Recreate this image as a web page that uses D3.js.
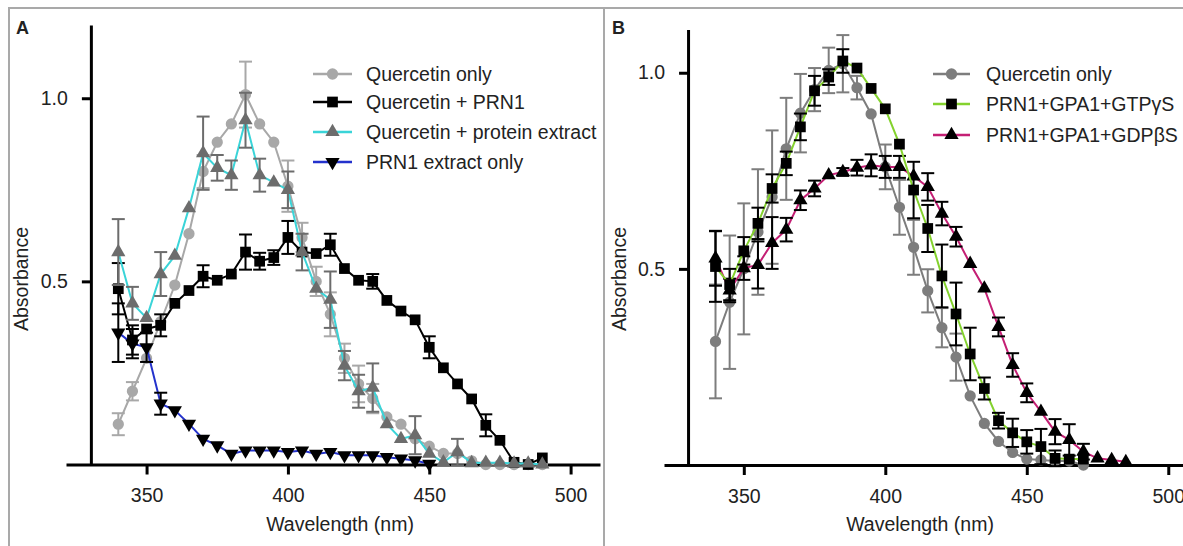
<!DOCTYPE html>
<html><head><meta charset="utf-8">
<script src="https://cdn.jsdelivr.net/npm/d3@7"></script>
<style>
body{margin:0;background:#fff}
svg{display:block}
text{font-family:"Liberation Sans",Arial,Helvetica,sans-serif;fill:#222}
</style>
</head><body>
<svg id="chart" width="1183" height="546"></svg>
<script>
// ---------------- DATA ----------------
// Panel A
const wlA = [340,345,350,355,360,365,370,375,380,385,390,395,400,405,410,415,420,425,430,435,440,445,450,455,460,465,470,475,480,485,490];
const wlA_extract = [340,345,350,355,360,365,370,375,380,385,390,395,400,405,410,415,420,425,430,435,440,445,450];
const aQuercetin    = [0.11,0.20,0.29,0.39,0.49,0.63,0.80,0.88,0.93,1.01,0.93,0.88,0.76,0.62,0.50,0.41,0.29,0.22,0.18,0.13,0.11,0.07,0.05,0.03,0.03,0.01,0.00,0.00,0.00,0.00,0.00];
const aQuercetinErr = [0.03,0.025,0,0,0,0,0.045,0,0,0.09,0,0,0.07,0.04,0.04,0.06,0.04,0.05,0.04,0,0,0,0,0,0,0,0,0,0,0,0];
const aPRN1         = [0.48,0.34,0.37,0.38,0.44,0.475,0.514,0.503,0.52,0.58,0.555,0.565,0.62,0.58,0.576,0.60,0.535,0.503,0.50,0.448,0.419,0.395,0.32,0.264,0.22,0.179,0.107,0.066,0.006,0.0,0.018];
const aPRN1Err      = [0.07,0.04,0,0.03,0,0,0.03,0,0,0.048,0.023,0.02,0.045,0,0,0.03,0,0,0.02,0,0,0,0.03,0,0,0,0.03,0,0,0,0];
const aProtein      = [0.58,0.44,0.40,0.52,0.57,0.70,0.85,0.81,0.79,0.94,0.79,0.77,0.75,0.58,0.48,0.45,0.27,0.20,0.21,0.11,0.07,0.08,0.03,0.006,0.034,0.004,0.005,0.005,0.003,0.003,0.0];
const aProteinErr   = [0.09,0.045,0,0.06,0,0,0.10,0.035,0.04,0.075,0.045,0,0.05,0.05,0,0.077,0.04,0.045,0.066,0,0,0.052,0,0,0.036,0,0,0,0,0,0];
const aExtract      = [0.36,0.33,0.32,0.166,0.148,0.111,0.07,0.052,0.029,0.038,0.038,0.038,0.034,0.038,0.029,0.034,0.025,0.025,0.025,0.02,0.016,0.011,0.002];
const aExtractErr   = [0.08,0.04,0.04,0.03,0,0,0,0,0,0,0,0,0,0,0,0,0,0,0,0,0,0,0];

// Panel B
const wlB = [340,345,350,355,360,365,370,375,380,385,390,395,400,405,410,415,420,425,430,435,440,445,450,455,460,465,470];
const wlB_gdp = [340,345,350,355,360,365,370,375,380,385,390,395,400,405,410,415,420,425,430,435,440,445,450,455,460,465,470,475,480,485];
const bQuercetin    = [0.315,0.415,0.50,0.594,0.683,0.806,0.897,0.957,1.006,1.023,0.962,0.895,0.76,0.657,0.555,0.444,0.35,0.275,0.176,0.106,0.06,0.032,0.015,0.013,0.01,0.01,0.0];
const bQuercetinErr = [0.145,0.17,0.167,0.16,0.17,0.13,0.10,0.055,0.058,0.073,0.03,0,0.057,0.07,0.07,0.055,0.05,0.06,0,0,0,0,0,0,0,0,0];
const bGTP          = [0.506,0.46,0.546,0.616,0.705,0.769,0.862,0.954,0.989,1.03,1.012,0.96,0.908,0.818,0.701,0.603,0.482,0.385,0.283,0.195,0.113,0.082,0.059,0.047,0.017,0.015,0.015];
const bGTPErr       = [0.09,0.04,0.035,0.04,0.036,0.03,0.034,0.038,0.02,0.03,0,0,0,0,0.072,0.06,0.08,0.08,0.067,0.028,0.02,0.036,0.03,0.045,0.02,0,0];
const bGDP          = [0.527,0.445,0.502,0.51,0.566,0.60,0.675,0.705,0.739,0.747,0.758,0.764,0.76,0.76,0.736,0.709,0.641,0.582,0.513,0.45,0.352,0.255,0.184,0.136,0.085,0.064,0.034,0.017,0.013,0.008];
const bGDPErr       = [0.07,0.03,0.03,0.06,0.066,0.03,0.025,0.02,0,0.01,0.02,0.028,0.028,0.028,0,0.035,0.03,0.025,0,0,0.024,0.03,0.024,0,0.032,0.04,0.02,0,0,0];

const xTicks = [350,400,450,500];
const yTicks = [0.5,1.0];
const xLabel = "Wavelength (nm)";
const yLabel = "Absorbance";

// ---------------- DRAW ----------------
const svg = d3.select("#chart");
const FS = 19.5;

// frame
const frame = svg.append("g").attr("stroke","#a9a9a9").attr("stroke-width",2);
frame.append("line").attr("x1",8).attr("x2",1183).attr("y1",8).attr("y2",8);
frame.append("line").attr("x1",9).attr("x2",9).attr("y1",8).attr("y2",546);
frame.append("line").attr("x1",604).attr("x2",604).attr("y1",8).attr("y2",546);

const symPath = {
  circle: d3.symbol().type(d3.symbolCircle).size(100)(),
  square: d3.symbol().type(d3.symbolSquare).size(115)(),
  triangle: d3.symbol().type(d3.symbolTriangle).size(88)(),
  down: d3.symbol().type(d3.symbolTriangle).size(88)()
};
function marker(g, type, x, y, fill){
  g.append("path").attr("d", symPath[type]).attr("fill", fill)
   .attr("transform", `translate(${x},${y})` + (type==="down" ? " rotate(180)" : ""));
}

function panel(cfg){
  const {x, y, yAxisNm, letter, letterX, series, order, legend, xLabelX, yLabelX} = cfg;
  const g = svg.append("g");
  // x axis
  const xa = g.append("g").attr("transform",`translate(0,${y(0)})`)
    .call(d3.axisBottom(x).tickValues(xTicks).tickFormat(d3.format("d")).tickSize(10).tickSizeOuter(0).tickPadding(14));
  // y axis
  const ya = g.append("g").attr("transform",`translate(${x(yAxisNm)},0)`)
    .call(d3.axisLeft(y).tickValues(yTicks).tickFormat(d3.format(".1f")).tickSize(9).tickSizeOuter(0).tickPadding(14));
  [xa,ya].forEach(a=>{
    a.select(".domain").attr("stroke","#000").attr("stroke-width",3);
    a.selectAll(".tick line").attr("stroke","#000").attr("stroke-width",3);
    a.selectAll(".tick text").attr("font-size",FS).attr("fill","#222")
      .attr("font-family",'"Liberation Sans",Arial,sans-serif');
  });
  // axis labels
  g.append("text").attr("x",xLabelX).attr("y",531).attr("text-anchor","middle").attr("font-size",FS).text(xLabel);
  g.append("text").attr("transform",`translate(${yLabelX},279) rotate(-90)`).attr("text-anchor","middle").attr("font-size",FS).text(yLabel);
  // panel letter
  g.append("text").attr("x",letterX).attr("y",34).attr("font-size",18).attr("font-weight","bold").attr("fill","#000").text(letter);

  // series
  order.forEach(i=>{
    const s = series[i];
    const pts = s.wl.map((w,k)=>({w, v:s.v[k], e:s.e[k]}));
    const sg = g.append("g");
    sg.append("path").datum(pts)
      .attr("d", d3.line().x(d=>x(d.w)).y(d=>y(d.v)))
      .attr("fill","none").attr("stroke",s.line).attr("stroke-width",2);
    const eg = sg.append("g").attr("stroke",s.err).attr("stroke-width",2).attr("fill","none");
    pts.filter(d=>d.e>0).forEach(d=>{
      const cx = x(d.w), y1 = y(d.v+d.e), y2 = y(d.v-d.e);
      eg.append("line").attr("x1",cx).attr("x2",cx).attr("y1",y1).attr("y2",y2);
      eg.append("line").attr("x1",cx-6.5).attr("x2",cx+6.5).attr("y1",y1).attr("y2",y1);
      eg.append("line").attr("x1",cx-6.5).attr("x2",cx+6.5).attr("y1",y2).attr("y2",y2);
    });
    pts.forEach(d=> marker(sg, s.sym, x(d.w), y(d.v), s.fill));
  });

  // legend
  const lg = g.append("g");
  series.forEach((s,i)=>{
    const ry = legend.rows[i];
    lg.append("line").attr("x1",legend.x1).attr("x2",legend.x2).attr("y1",ry).attr("y2",ry)
      .attr("stroke",s.line).attr("stroke-width",2.5);
    marker(lg, s.sym, (legend.x1+legend.x2)/2, ry, s.fill);
    lg.append("text").attr("x",legend.tx).attr("y",ry+7).attr("font-size",FS).text(s.name);
  });
}

// Panel A
const xA = d3.scaleLinear().domain([321.5,510.4]).range([66,600]);
const yA = d3.scaleLinear().domain([0,1.2]).range([464.5,25]);
panel({
  x:xA, y:yA, yAxisNm:330.3, letter:"A", letterX:16, xLabelX:340, yLabelX:28,
  series:[
    {name:"Quercetin only", wl:wlA, v:aQuercetin, e:aQuercetinErr, line:"#a8a8a8", fill:"#a8a8a8", err:"#a8a8a8", sym:"circle"},
    {name:"Quercetin + PRN1", wl:wlA, v:aPRN1, e:aPRN1Err, line:"#000", fill:"#000", err:"#000", sym:"square"},
    {name:"Quercetin + protein extract", wl:wlA, v:aProtein, e:aProteinErr, line:"#3ad4d8", fill:"#6c6c6c", err:"#6c6c6c", sym:"triangle"},
    {name:"PRN1 extract only", wl:wlA_extract, v:aExtract, e:aExtractErr, line:"#2432cc", fill:"#000", err:"#000", sym:"down"}
  ],
  order:[0,3,1,2],
  legend:{x1:313, x2:352, tx:366, rows:[74,102,132,162]}
});

// Panel B
const xB = d3.scaleLinear().domain([321.8,510.4]).range([664,1197.7]);
const yB = d3.scaleLinear().domain([0,1.11]).range([465,29.6]);
panel({
  x:xB, y:yB, yAxisNm:330.3, letter:"B", letterX:612, xLabelX:920, yLabelX:626,
  series:[
    {name:"Quercetin only", wl:wlB, v:bQuercetin, e:bQuercetinErr, line:"#7d7d7d", fill:"#7d7d7d", err:"#7d7d7d", sym:"circle"},
    {name:"PRN1+GPA1+GTPγS", wl:wlB, v:bGTP, e:bGTPErr, line:"#84d22e", fill:"#000", err:"#000", sym:"square"},
    {name:"PRN1+GPA1+GDPβS", wl:wlB_gdp, v:bGDP, e:bGDPErr, line:"#c41f74", fill:"#000", err:"#000", sym:"triangle"}
  ],
  order:[0,2,1],
  legend:{x1:933, x2:970, tx:986, rows:[74,104,135]}
});
</script>
</body></html>
